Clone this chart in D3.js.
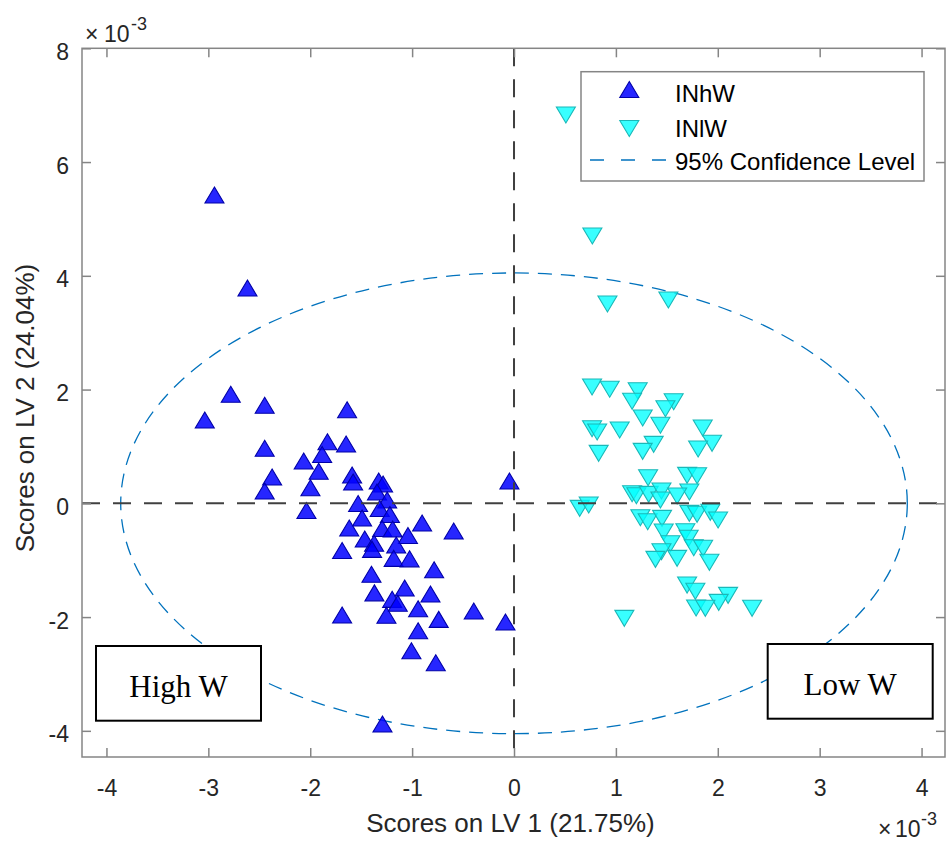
<!DOCTYPE html>
<html><head><meta charset="utf-8">
<script src="https://cdn.jsdelivr.net/npm/d3@7"></script>
<style>body{margin:0;background:#fff}svg{display:block}</style>
</head><body>
<svg id="chart" width="949" height="844"></svg>
<script>
// ---- data (scores, in units of 1e-3) ----
const xTicks = [-4,-3,-2,-1,0,1,2,3,4];
const xTickLabels = ["-4","-3","-2","-1","0","1","2","3","4"];
const yTicks = [-4,-2,0,2,4,6,8];
const yTickLabels = ["-4","-2","0","2","4","6","8"];
const seriesNames = ["INhW","INlW","95% Confidence Level"];
const regionLabels = ["High W","Low W"];
const axisTitles = ["Scores on LV 1 (21.75%)","Scores on LV 2 (24.04%)"];
const ellipseRadii = [3.86, 4.05];

const inhwX = [-2.940,-2.616,-2.780,-3.035,-2.447,-1.638,-2.447,-1.831,-1.648,-1.883,
  -2.064,-1.917,-2.374,-2.447,-1.998,-1.589,-1.579,-2.037,-1.530,-1.491,
  -1.617,-1.328,-1.285,-1.345,-1.245,-1.318,-1.218,-1.294,-1.191,-0.902,
  -0.592,-1.041,-1.465,-1.373,-1.393,-1.156,-1.687,-1.181,-1.025,-0.784,
  -1.399,-1.370,-1.073,-0.820,-1.196,-1.141,-1.252,-0.941,-1.687,-0.739,
  -0.395,-0.941,-1.007,-0.768,-0.084,-0.045,-1.291];
const inhwY = [5.421,3.786,1.917,1.465,1.723,1.646,0.967,1.083,1.043,0.858,
  0.744,0.563,0.462,0.216,0.274,0.498,0.375,-0.127,-0.004,-0.258,
  -0.434,0.392,0.339,0.199,0.058,-0.091,-0.197,-0.443,-0.452,-0.346,
  -0.487,-0.566,-0.628,-0.703,-0.809,-0.733,-0.830,-0.967,-0.976,-1.168,
  -1.248,-1.574,-1.489,-1.595,-1.688,-1.758,-1.969,-1.853,-1.964,-2.040,
  -1.894,-2.240,-2.592,-2.803,-2.087,0.392,-3.881];

const inlwX = [0.509,0.769,0.917,1.515,0.766,0.939,1.214,1.159,1.567,1.486,
  1.263,1.437,0.766,0.816,1.037,1.852,1.944,1.807,1.371,1.263,
  0.831,1.316,1.699,1.797,1.721,1.159,1.201,1.322,1.447,1.437,
  1.601,0.645,0.733,1.240,1.312,1.453,1.721,1.797,1.927,2.003,
  1.469,1.682,1.714,1.535,1.447,1.388,1.601,1.764,1.856,1.918,
  1.699,1.780,2.101,2.009,1.787,1.878,2.337,1.083];
const inlwY = [6.828,4.700,3.505,3.575,2.045,2.005,1.980,1.794,1.787,1.663,
  1.500,1.372,1.312,1.254,1.289,1.324,1.055,0.955,1.037,0.914,
  0.879,0.450,0.492,0.485,0.199,0.169,0.134,0.158,0.216,0.058,
  0.128,-0.088,-0.030,-0.253,-0.324,-0.264,-0.176,-0.193,-0.158,-0.294,
  -0.505,-0.499,-0.615,-0.710,-0.851,-0.985,-0.967,-0.781,-0.791,-1.037,
  -1.437,-1.547,-1.618,-1.741,-1.841,-1.846,-1.846,-2.022];

// ---- layout ----
const plot = {left:82, right:945, top:48.3, bottom:757};
const sans = "'Liberation Sans', Arial, Helvetica, sans-serif";
const serif = "'Liberation Serif', 'Times New Roman', serif";
const textColor = "#262626";
const axisColor = "#858585";
const blueFill = "#0000ff", blueEdge = "#0000a8";
const cyanFill = "#00ffff", cyanEdge = "#1ab8b8";
const ellColor = "#0072bd";
const tickFont = 23;

const x = d3.scaleLinear().domain([-4.24, 4.23]).range([plot.left, plot.right]);
const y = d3.scaleLinear().domain([-4.46, 8]).range([plot.bottom, plot.top]);

const svg = d3.select("#chart");
svg.append("rect").attr("width",949).attr("height",844).attr("fill","#fff");

const upTri = "M0,-8L9.5,8L-9.5,8Z";
const downTri = "M0,8L9.5,-8L-9.5,-8Z";

// confidence ellipse
svg.append("ellipse")
  .attr("cx", x(0)).attr("cy", y(0))
  .attr("rx", x(ellipseRadii[0]) - x(0))
  .attr("ry", y(0) - y(ellipseRadii[1]))
  .attr("fill","none").attr("stroke",ellColor).attr("stroke-width",1.3)
  .attr("stroke-dasharray","14,9");

// markers
const inhw = inhwX.map((v,i)=>({x:v,y:inhwY[i]}));
const inlw = inlwX.map((v,i)=>({x:v,y:inlwY[i]}));

svg.append("g").selectAll("path").data(inhw).join("path")
  .attr("d", upTri)
  .attr("transform", d=>`translate(${x(d.x)},${y(d.y)})`)
  .attr("fill", blueFill).attr("fill-opacity",0.85)
  .attr("stroke", blueEdge).attr("stroke-width",1.1);

svg.append("g").selectAll("path").data(inlw).join("path")
  .attr("d", downTri)
  .attr("transform", d=>`translate(${x(d.x)},${y(d.y)})`)
  .attr("fill", cyanFill).attr("fill-opacity",0.78)
  .attr("stroke", cyanEdge).attr("stroke-width",1.1);

// zero lines
svg.append("line").attr("x1",plot.left).attr("x2",plot.right)
  .attr("y1",y(0)).attr("y2",y(0))
  .attr("stroke","#404040").attr("stroke-width",2).attr("stroke-dasharray","18,13");
svg.append("line").attr("x1",x(0)).attr("x2",x(0))
  .attr("y1",plot.top).attr("y2",plot.bottom)
  .attr("stroke","#404040").attr("stroke-width",2).attr("stroke-dasharray","18,13");

// axes box
svg.append("rect").attr("x",plot.left).attr("y",plot.top)
  .attr("width",plot.right-plot.left).attr("height",plot.bottom-plot.top)
  .attr("fill","none").attr("stroke",axisColor).attr("stroke-width",1.5);

function styleAxis(g){
  g.select(".domain").remove();
  g.selectAll(".tick line").attr("stroke",axisColor).attr("stroke-width",1.5);
}
const gB = svg.append("g").attr("transform",`translate(0,${plot.bottom})`)
  .call(d3.axisBottom(x).tickValues(xTicks).tickSizeInner(-9).tickSizeOuter(0)
    .tickFormat((d,i)=>xTickLabels[i]));
styleAxis(gB);
gB.selectAll(".tick text").attr("y",39).attr("dy",null)
  .attr("font-family",sans).attr("font-size",tickFont).attr("fill",textColor);

const gT = svg.append("g").attr("transform",`translate(0,${plot.top})`)
  .call(d3.axisTop(x).tickValues(xTicks).tickSizeInner(-9).tickSizeOuter(0).tickFormat(""));
styleAxis(gT);

const gL = svg.append("g").attr("transform",`translate(${plot.left},0)`)
  .call(d3.axisLeft(y).tickValues(yTicks).tickSizeInner(-9).tickSizeOuter(0)
    .tickFormat((d,i)=>yTickLabels[i]));
styleAxis(gL);
gL.selectAll(".tick text").attr("x",-13).attr("dy",null).attr("y",11)
  .attr("font-family",sans).attr("font-size",tickFont).attr("fill",textColor);

const gR = svg.append("g").attr("transform",`translate(${plot.right},0)`)
  .call(d3.axisRight(y).tickValues(yTicks).tickSizeInner(-9).tickSizeOuter(0).tickFormat(""));
styleAxis(gR);

// exponent labels
function expLabel(xm, x10, xe, base, supBase){
  svg.append("text").attr("x",xm).attr("y",base).text("×")
    .attr("font-family",sans).attr("font-size",23).attr("fill",textColor);
  svg.append("text").attr("x",x10).attr("y",base).text("10")
    .attr("font-family",sans).attr("font-size",23).attr("fill",textColor);
  svg.append("text").attr("x",xe).attr("y",supBase).text("-3")
    .attr("font-family",sans).attr("font-size",18).attr("fill",textColor);
}
expLabel(85, 104, 131, 41.7, 29.5);
expLabel(878, 895, 921, 836.7, 824.5);

// axis titles
svg.append("text").attr("x",510.5).attr("y",831.5)
  .attr("text-anchor","middle").attr("font-family",sans).attr("font-size",26)
  .attr("fill",textColor).text(axisTitles[0]);
svg.append("text").attr("transform",`translate(34,408) rotate(-90)`)
  .attr("text-anchor","middle").attr("font-family",sans).attr("font-size",26)
  .attr("fill",textColor).text(axisTitles[1]);

// legend
const leg = svg.append("g");
leg.append("rect").attr("x",581).attr("y",71.7).attr("width",343).attr("height",109.3)
  .attr("fill","#fff").attr("stroke",axisColor).attr("stroke-width",1.5);
leg.append("path").attr("d",upTri).attr("transform","translate(629.3,89.5)")
  .attr("fill",blueFill).attr("fill-opacity",0.85).attr("stroke",blueEdge).attr("stroke-width",1.1);
leg.append("path").attr("d",downTri).attr("transform","translate(629.3,128.5)")
  .attr("fill",cyanFill).attr("fill-opacity",0.78).attr("stroke",cyanEdge).attr("stroke-width",1.1);
leg.append("line").attr("x1",590).attr("x2",668).attr("y1",160).attr("y2",160)
  .attr("stroke",ellColor).attr("stroke-width",1.3).attr("stroke-dasharray","14,17");
const legBase = [101.5, 136.5, 169.5];
seriesNames.forEach((s,i)=>{
  leg.append("text").attr("x",675).attr("y",legBase[i]).text(s)
    .attr("font-family",sans).attr("font-size",24).attr("fill","#000");
});

// region label boxes
const boxes = [{x:96,y:646,w:165,h:74.7,tb:697},{x:767.7,y:644,w:165,h:74.7,tb:694.5}];
boxes.forEach((b,i)=>{
  svg.append("rect").attr("x",b.x).attr("y",b.y).attr("width",b.w).attr("height",b.h)
    .attr("fill","#fff").attr("stroke","#000").attr("stroke-width",2);
  svg.append("text").attr("x",b.x+b.w/2).attr("y",b.tb).attr("text-anchor","middle")
    .attr("font-family",serif).attr("font-size",31).attr("fill","#000").text(regionLabels[i]);
});
</script>
</body></html>
